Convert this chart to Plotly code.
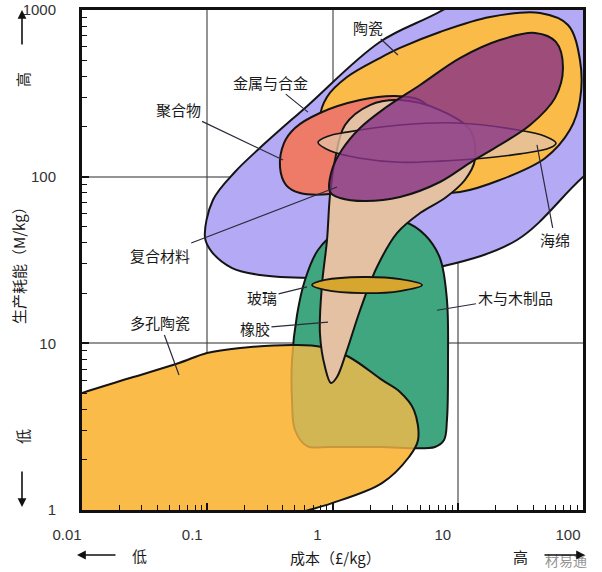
import math
import plotly.graph_objects as go

# ---- Region outlines: cost (GBP/kg) and production energy (MJ/kg) ----
metals_cost = [0.096, 0.111, 0.167, 0.264, 0.626, 2.39, 7.62, 31.4, 137, 412, 715, 596, 285, 100, 29.7, 7.21, 2.39, 0.661, 0.264, 0.158, 0.109, 0.096]
metals_energy = [42.9, 72.4, 107, 149, 265, 643, 1000, 1995, 3020, 2630, 1318, 501, 191, 99.5, 41.7, 28.7, 25.4, 24.7, 25.7, 28.3, 35.3, 42.9]

ceramics_cost = [0.794, 0.904, 1.306, 2.39, 3.46, 7.21, 18.1, 45.4, 75.9, 94.6, 94.6, 78.7, 49.7, 21.7, 10.4, 5.00, 2.39, 1.259, 0.871, 0.794]
ceramics_energy = [225, 301, 396, 515, 592, 738, 908, 959, 813, 501, 288, 191, 129, 95.5, 80.9, 80.9, 95.5, 126, 166, 225]

polymers_cost = [0.381, 0.410, 0.502, 0.794, 1.66, 3.16, 5.00, 6.23, 5.48, 3.16, 1.66, 1.148, 0.955, 0.551, 0.426, 0.381]
polymers_energy = [114, 159, 196, 241, 288, 305, 288, 241, 178, 126, 92.9, 80.9, 78.7, 79.8, 89.1, 114]

wood_cost = [0.626, 0.502, 0.475, 0.475, 0.521, 0.603, 0.766, 1.148, 2.183, 3.79, 5.48, 7.21, 8.20, 8.36, 8.20, 7.77, 6.58, 2.39, 0.955, 0.626]
wood_energy = [2.42, 3.02, 4.57, 7.94, 14.8, 24.0, 36.3, 47.9, 55.0, 53.5, 44.7, 32.5, 18.2, 7.94, 3.47, 2.63, 2.39, 2.39, 2.39, 2.42]

porous_cost = [4.82, 4.47, 3.46, 2.483, 1.355, 0.824, 0.502, 0.183, 0.0995, 0.0595, 0.0242, 0.01, 0.00385, 0.00153, 0.00128, 0.00556, 0.0349, 0.219, 0.649, 0.991, 2.483, 4.08, 4.82]
porous_energy = [2.63, 3.98, 5.10, 6.03, 8.28, 9.51, 9.77, 9.38, 8.75, 7.62, 6.19, 5.04, 3.98, 2.63, 1.148, 0.661, 0.617, 0.813, 1.0, 1.10, 1.45, 2.08, 2.63]

rubber_cost = [0.973, 1.086, 1.306, 1.66, 2.265, 3.27, 5.00, 7.91, 11.4, 13.7, 12.5, 7.21, 3.46, 1.99, 1.259, 1.047, 0.955, 0.904, 0.824, 0.794, 0.871, 0.973]
rubber_energy = [5.78, 6.28, 9.12, 15.8, 28.7, 45.9, 60.5, 74.5, 95.5, 126, 191, 251, 288, 269, 204, 126, 77.6, 41.7, 22.4, 11.5, 7.21, 5.78]

foam_cost = [0.766, 0.920, 1.306, 3.46, 9.86, 29.7, 49.7, 60.8, 54.6, 31.4, 15.9, 7.21, 3.46, 1.66, 0.955, 0.766]
foam_energy = [161, 175, 185, 204, 210, 191, 175, 159, 149, 137, 129, 124, 122, 129, 143, 161]

composites_cost = [0.955, 0.991, 1.19, 1.66, 2.625, 5.00, 10.4, 21.7, 41.4, 60.8, 69.2, 59.7, 37.8, 21.7, 12.5, 7.21, 3.46, 1.816, 1.148, 0.955]
composites_energy = [80.9, 110, 145, 196, 258, 355, 515, 661, 728, 643, 449, 296, 204, 155, 121, 92.9, 75.5, 71.4, 74.5, 80.9]

glass_cost = [0.686, 0.871, 1.75, 3.46, 5.19, 3.46, 1.75, 0.871, 0.686]
glass_energy = [22.4, 24.0, 25.0, 24.3, 22.4, 20.6, 20.0, 20.9, 22.4]

# ---- Labels and the points their leader lines touch ----
label_text = ['陶瓷', '金属与合金', '聚合物', '复合材料', '玻璃', '橡胶', '多孔陶瓷', '木与木制品', '海绵']
label_cost = [3.33, 0.637, 0.403, 1.086, 0.626, 0.920, 0.0595, 6.83, 42.9]
label_energy = [537, 244, 126, 86.7, 21.8, 13.4, 6.46, 15.8, 155]
label_dx = [-30, -37, -105, -177, -45, -73, -19, 78, 18]
label_dy = [-28, -30, -50, 68, 11, 6, -52, -13, 95]

# ---- Axis ticks ----
x_ticks = [0.01, 0.1, 1, 10, 100]
x_ticktext = ['0.01', '0.1', '1', '10', '100']
y_ticks = [1, 10, 100, 1000]
y_ticktext = ['1', '10', '100', '1000']
x_minor = [m * 10.0 ** k for k in range(-2, 2) for m in range(2, 10)]
y_minor = [m * 10.0 ** k for k in range(0, 3) for m in range(2, 10)]

OUTLINE = '#141414'
fig = go.Figure()


def add_region(cost, energy, fill, width=2.0, color=OUTLINE):
    fig.add_trace(go.Scatter(
        x=cost, y=energy, mode='lines', fill='toself', fillcolor=fill,
        line=dict(color=color, width=width, shape='spline', smoothing=1.0),
        hoverinfo='skip', showlegend=False))


add_region(metals_cost, metals_energy, '#b3a9f4')
add_region(ceramics_cost, ceramics_energy, '#fbbb48')
add_region(polymers_cost, polymers_energy, '#ee7b68')
add_region(porous_cost, porous_energy, '#fbbb48', width=0)
add_region(wood_cost, wood_energy, '#3fa67f')
add_region(porous_cost, porous_energy, 'rgba(251,187,72,0.78)')
add_region(rubber_cost, rubber_energy, '#e4c1a3')
add_region(foam_cost, foam_energy, 'rgba(228,193,163,0.78)', width=1.6)
add_region(composites_cost, composites_energy, 'rgba(135,50,135,0.8)')
add_region(glass_cost, glass_energy, '#d6a62e', width=1.8)

CJK = 'Noto Sans CJK SC'
annotations = []
for t, c, e, dx, dy in zip(label_text, label_cost, label_energy, label_dx, label_dy):
    annotations.append(dict(
        x=math.log10(c), y=math.log10(e), xref='x', yref='y', text=t,
        showarrow=True, arrowhead=0, arrowwidth=1.2, arrowcolor='#2b2b3a',
        ax=dx, ay=dy, standoff=0, font=dict(family=CJK, size=15, color='#1a1a1a')))


# plot area spans 501 x 500 px
def paper_x(px):
    return (px - 82) / 501.0


def paper_y(py):
    return (510 - py) / 500.0


def text_note(px, py, text, size=15, color='#1a1a1a', angle=0):
    return dict(x=paper_x(px), y=paper_y(py), xref='paper', yref='paper', text=text,
                xanchor='center', yanchor='middle', textangle=angle, showarrow=False,
                font=dict(family=CJK, size=size, color=color))


annotations += [
    text_note(18, 262, '生产耗能（M/kg）', angle=-90),
    text_note(22, 80, '高', angle=-90),
    text_note(22, 437, '低', angle=-90),
    text_note(335, 557, '成本（£/kg）'),
    text_note(139, 555, '低'),
    text_note(520, 556, '高'),
    text_note(566, 560, '材易通', size=14, color='rgba(120,120,120,0.8)'),
]
arrow_style = dict(xref='paper', yref='paper', text='', showarrow=True, arrowhead=2,
                   arrowsize=1.1, arrowwidth=1.6, arrowcolor='#111')
annotations += [
    dict(x=paper_x(22), y=paper_y(10), ax=0, ay=36, **arrow_style),
    dict(x=paper_x(22), y=paper_y(507), ax=0, ay=-37, **arrow_style),
    dict(x=paper_x(77), y=paper_y(555), ax=40, ay=0, **arrow_style),
    dict(x=paper_x(585), y=paper_y(555), ax=-42, ay=0, **arrow_style),
]

tick_font = dict(family='Liberation Sans, Arial, sans-serif', size=15, color='#333')
common_axis = dict(
    type='log', showgrid=True, gridcolor='rgba(60,60,60,0.55)', gridwidth=1.5,
    showline=True, linecolor='#111', linewidth=3, mirror=True,
    ticks='inside', ticklen=7, tickwidth=1.5, tickcolor='#111', automargin=False,
    layer='above traces', zeroline=False, tickfont=tick_font, fixedrange=True,
    ticklabeloverflow='allow',
)
fig.update_xaxes(range=[-2, 2], tickmode='array', tickvals=x_ticks, ticktext=x_ticktext,
                 minor=dict(tickmode='array', tickvals=x_minor, ticks='inside', ticklen=5,
                            tickwidth=1.3, tickcolor='#111', showgrid=False),
                 ticklabelstandoff=9, ticklabelshift=-15, **common_axis)
fig.update_yaxes(range=[0, 3], tickmode='array', tickvals=y_ticks, ticktext=y_ticktext,
                 minor=dict(tickmode='array', tickvals=y_minor, ticks='inside', ticklen=5,
                            tickwidth=1.3, tickcolor='#111', showgrid=False),
                 ticklabelstandoff=20, **common_axis)

fig.update_layout(
    width=602, height=572, margin=dict(l=82, r=19, t=10, b=62, autoexpand=False),
    paper_bgcolor='white', plot_bgcolor='white', showlegend=False,
    annotations=annotations,
)

# drop the page's default 8px body margin so the figure sits at the window origin
fig.write_html(
    'out.html',
    config={'displayModeBar': False},
    post_script="document.body.style.margin='0px';document.documentElement.style.overflow='hidden';",
)
